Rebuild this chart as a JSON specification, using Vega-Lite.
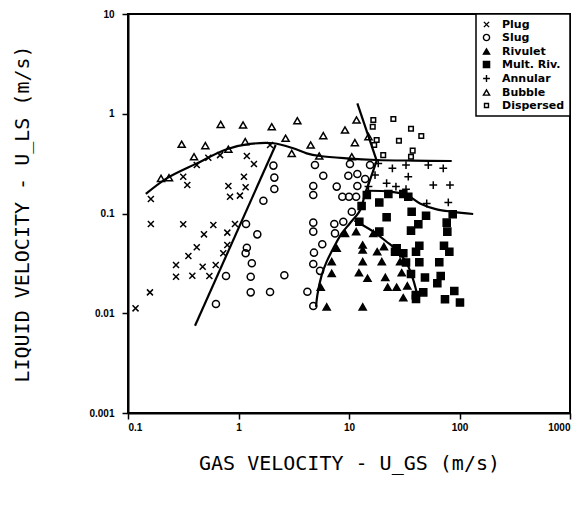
{
  "$schema": "https://vega.github.io/schema/vega-lite/v6.json",
  "width": 442,
  "height": 399,
  "autosize": {"type": "none"},
  "padding": {"left": 128, "top": 14, "right": 17, "bottom": 94},
  "background": "white",
  "datasets": {
    "points": [
      {"regime": "Plug", "ugs": 0.117, "uls": 0.0112},
      {"regime": "Plug", "ugs": 0.158, "uls": 0.0162},
      {"regime": "Plug", "ugs": 0.161, "uls": 0.0785},
      {"regime": "Plug", "ugs": 0.161, "uls": 0.140},
      {"regime": "Plug", "ugs": 0.316, "uls": 0.078},
      {"regime": "Plug", "ugs": 0.592, "uls": 0.0767},
      {"regime": "Plug", "ugs": 0.929, "uls": 0.0785},
      {"regime": "Plug", "ugs": 0.487, "uls": 0.0618},
      {"regime": "Plug", "ugs": 0.792, "uls": 0.0643},
      {"regime": "Plug", "ugs": 0.419, "uls": 0.0458},
      {"regime": "Plug", "ugs": 0.792, "uls": 0.0483},
      {"regime": "Plug", "ugs": 0.352, "uls": 0.0375},
      {"regime": "Plug", "ugs": 0.728, "uls": 0.0399},
      {"regime": "Plug", "ugs": 0.272, "uls": 0.0305},
      {"regime": "Plug", "ugs": 0.474, "uls": 0.0293},
      {"regime": "Plug", "ugs": 0.622, "uls": 0.0305},
      {"regime": "Plug", "ugs": 0.272, "uls": 0.0232},
      {"regime": "Plug", "ugs": 0.382, "uls": 0.0238},
      {"regime": "Plug", "ugs": 0.545, "uls": 0.0236},
      {"regime": "Plug", "ugs": 0.344, "uls": 0.193},
      {"regime": "Plug", "ugs": 0.316, "uls": 0.234},
      {"regime": "Plug", "ugs": 0.419, "uls": 0.306},
      {"regime": "Plug", "ugs": 0.533, "uls": 0.362},
      {"regime": "Plug", "ugs": 0.681, "uls": 0.385},
      {"regime": "Plug", "ugs": 1.19, "uls": 0.377},
      {"regime": "Plug", "ugs": 1.38, "uls": 0.313},
      {"regime": "Plug", "ugs": 1.12, "uls": 0.234},
      {"regime": "Plug", "ugs": 0.81, "uls": 0.189},
      {"regime": "Plug", "ugs": 1.16, "uls": 0.183},
      {"regime": "Plug", "ugs": 0.838, "uls": 0.147},
      {"regime": "Plug", "ugs": 1.03, "uls": 0.151},
      {"regime": "Plug", "ugs": 1.93, "uls": 0.486},
      {"regime": "Slug", "ugs": 0.625, "uls": 0.0124},
      {"regime": "Slug", "ugs": 0.771, "uls": 0.0236},
      {"regime": "Slug", "ugs": 1.17, "uls": 0.0785},
      {"regime": "Slug", "ugs": 1.48, "uls": 0.0618},
      {"regime": "Slug", "ugs": 1.19, "uls": 0.0454},
      {"regime": "Slug", "ugs": 1.16, "uls": 0.0399},
      {"regime": "Slug", "ugs": 1.32, "uls": 0.0317},
      {"regime": "Slug", "ugs": 1.29, "uls": 0.0232},
      {"regime": "Slug", "ugs": 2.6, "uls": 0.024},
      {"regime": "Slug", "ugs": 1.29, "uls": 0.0162},
      {"regime": "Slug", "ugs": 1.93, "uls": 0.0163},
      {"regime": "Slug", "ugs": 1.68, "uls": 0.134},
      {"regime": "Slug", "ugs": 2.07, "uls": 0.302},
      {"regime": "Slug", "ugs": 2.11, "uls": 0.229},
      {"regime": "Slug", "ugs": 2.11, "uls": 0.176},
      {"regime": "Slug", "ugs": 4.92, "uls": 0.306},
      {"regime": "Slug", "ugs": 5.85, "uls": 0.239},
      {"regime": "Slug", "ugs": 9.86, "uls": 0.239},
      {"regime": "Slug", "ugs": 10.2, "uls": 0.313},
      {"regime": "Slug", "ugs": 15.5, "uls": 0.306},
      {"regime": "Slug", "ugs": 11.9, "uls": 0.249},
      {"regime": "Slug", "ugs": 4.75, "uls": 0.189},
      {"regime": "Slug", "ugs": 4.75, "uls": 0.153},
      {"regime": "Slug", "ugs": 7.74, "uls": 0.186},
      {"regime": "Slug", "ugs": 8.7, "uls": 0.147},
      {"regime": "Slug", "ugs": 10.0, "uls": 0.147},
      {"regime": "Slug", "ugs": 11.6, "uls": 0.147},
      {"regime": "Slug", "ugs": 11.9, "uls": 0.189},
      {"regime": "Slug", "ugs": 14.0, "uls": 0.222},
      {"regime": "Slug", "ugs": 10.6, "uls": 0.104},
      {"regime": "Slug", "ugs": 4.75, "uls": 0.081},
      {"regime": "Slug", "ugs": 4.75, "uls": 0.0658},
      {"regime": "Slug", "ugs": 7.36, "uls": 0.0785},
      {"regime": "Slug", "ugs": 7.47, "uls": 0.0632},
      {"regime": "Slug", "ugs": 8.88, "uls": 0.0828},
      {"regime": "Slug", "ugs": 5.73, "uls": 0.0491},
      {"regime": "Slug", "ugs": 4.82, "uls": 0.0405},
      {"regime": "Slug", "ugs": 4.75, "uls": 0.0312},
      {"regime": "Slug", "ugs": 5.47, "uls": 0.0266},
      {"regime": "Slug", "ugs": 4.2, "uls": 0.0164},
      {"regime": "Slug", "ugs": 4.75, "uls": 0.0118},
      {"regime": "Rivulet", "ugs": 11.6, "uls": 0.0658},
      {"regime": "Rivulet", "ugs": 9.2, "uls": 0.0632},
      {"regime": "Rivulet", "ugs": 13.3, "uls": 0.0483},
      {"regime": "Rivulet", "ugs": 13.3, "uls": 0.043},
      {"regime": "Rivulet", "ugs": 7.74, "uls": 0.0448},
      {"regime": "Rivulet", "ugs": 6.97, "uls": 0.0329},
      {"regime": "Rivulet", "ugs": 6.97, "uls": 0.0251},
      {"regime": "Rivulet", "ugs": 13.3, "uls": 0.0329},
      {"regime": "Rivulet", "ugs": 18.0, "uls": 0.0414},
      {"regime": "Rivulet", "ugs": 20.7, "uls": 0.0465},
      {"regime": "Rivulet", "ugs": 19.8, "uls": 0.0329},
      {"regime": "Rivulet", "ugs": 29.0, "uls": 0.0329},
      {"regime": "Rivulet", "ugs": 12.3, "uls": 0.0255},
      {"regime": "Rivulet", "ugs": 14.7, "uls": 0.0224},
      {"regime": "Rivulet", "ugs": 21.3, "uls": 0.0229},
      {"regime": "Rivulet", "ugs": 30.0, "uls": 0.0255},
      {"regime": "Rivulet", "ugs": 22.4, "uls": 0.0182},
      {"regime": "Rivulet", "ugs": 27.0, "uls": 0.0182},
      {"regime": "Rivulet", "ugs": 33.7, "uls": 0.0188},
      {"regime": "Rivulet", "ugs": 31.0, "uls": 0.0143},
      {"regime": "Rivulet", "ugs": 6.28, "uls": 0.0116},
      {"regime": "Rivulet", "ugs": 13.3, "uls": 0.0116},
      {"regime": "Rivulet", "ugs": 5.55, "uls": 0.0182},
      {"regime": "Rivulet", "ugs": 16.6, "uls": 0.0632},
      {"regime": "Mult. Riv.", "ugs": 14.5, "uls": 0.153},
      {"regime": "Mult. Riv.", "ugs": 22.7, "uls": 0.157},
      {"regime": "Mult. Riv.", "ugs": 31.0, "uls": 0.157},
      {"regime": "Mult. Riv.", "ugs": 34.4, "uls": 0.147},
      {"regime": "Mult. Riv.", "ugs": 18.8, "uls": 0.129},
      {"regime": "Mult. Riv.", "ugs": 36.9, "uls": 0.104},
      {"regime": "Mult. Riv.", "ugs": 21.9, "uls": 0.0917},
      {"regime": "Mult. Riv.", "ugs": 49.8, "uls": 0.0951},
      {"regime": "Mult. Riv.", "ugs": 86.8, "uls": 0.0982},
      {"regime": "Mult. Riv.", "ugs": 42.4, "uls": 0.078},
      {"regime": "Mult. Riv.", "ugs": 76.6, "uls": 0.081},
      {"regime": "Mult. Riv.", "ugs": 13.0, "uls": 0.119},
      {"regime": "Mult. Riv.", "ugs": 12.4, "uls": 0.0828},
      {"regime": "Mult. Riv.", "ugs": 36.4, "uls": 0.0673},
      {"regime": "Mult. Riv.", "ugs": 77.6, "uls": 0.0658},
      {"regime": "Mult. Riv.", "ugs": 18.8, "uls": 0.0658},
      {"regime": "Mult. Riv.", "ugs": 43.3, "uls": 0.0475},
      {"regime": "Mult. Riv.", "ugs": 40.4, "uls": 0.0414},
      {"regime": "Mult. Riv.", "ugs": 72.4, "uls": 0.0475},
      {"regime": "Mult. Riv.", "ugs": 80.9, "uls": 0.0414},
      {"regime": "Mult. Riv.", "ugs": 27.0, "uls": 0.0448},
      {"regime": "Mult. Riv.", "ugs": 26.1, "uls": 0.0414},
      {"regime": "Mult. Riv.", "ugs": 31.0, "uls": 0.0399},
      {"regime": "Mult. Riv.", "ugs": 43.3, "uls": 0.0324},
      {"regime": "Mult. Riv.", "ugs": 65.6, "uls": 0.0324},
      {"regime": "Mult. Riv.", "ugs": 32.8, "uls": 0.0323},
      {"regime": "Mult. Riv.", "ugs": 36.4, "uls": 0.0247},
      {"regime": "Mult. Riv.", "ugs": 48.7, "uls": 0.0228},
      {"regime": "Mult. Riv.", "ugs": 67.6, "uls": 0.0236},
      {"regime": "Mult. Riv.", "ugs": 63.0, "uls": 0.02},
      {"regime": "Mult. Riv.", "ugs": 47.0, "uls": 0.0162},
      {"regime": "Mult. Riv.", "ugs": 40.4, "uls": 0.0139},
      {"regime": "Mult. Riv.", "ugs": 89.7, "uls": 0.0167},
      {"regime": "Mult. Riv.", "ugs": 73.9, "uls": 0.0138},
      {"regime": "Mult. Riv.", "ugs": 101, "uls": 0.0128},
      {"regime": "Mult. Riv.", "ugs": 40.2, "uls": 0.0152},
      {"regime": "Annular", "ugs": 18.4, "uls": 0.318},
      {"regime": "Annular", "ugs": 24.7, "uls": 0.284},
      {"regime": "Annular", "ugs": 32.8, "uls": 0.306},
      {"regime": "Annular", "ugs": 34.4, "uls": 0.234},
      {"regime": "Annular", "ugs": 52.2, "uls": 0.306},
      {"regime": "Annular", "ugs": 71.3, "uls": 0.284},
      {"regime": "Annular", "ugs": 21.9, "uls": 0.201},
      {"regime": "Annular", "ugs": 26.6, "uls": 0.186},
      {"regime": "Annular", "ugs": 32.8, "uls": 0.175},
      {"regime": "Annular", "ugs": 57.9, "uls": 0.193},
      {"regime": "Annular", "ugs": 82.0, "uls": 0.193},
      {"regime": "Annular", "ugs": 79.2, "uls": 0.129},
      {"regime": "Annular", "ugs": 17.2, "uls": 0.243},
      {"regime": "Annular", "ugs": 15.0, "uls": 0.186},
      {"regime": "Annular", "ugs": 50.5, "uls": 0.126},
      {"regime": "Bubble", "ugs": 0.199, "uls": 0.225},
      {"regime": "Bubble", "ugs": 0.235, "uls": 0.228},
      {"regime": "Bubble", "ugs": 0.306, "uls": 0.494},
      {"regime": "Bubble", "ugs": 0.396, "uls": 0.371},
      {"regime": "Bubble", "ugs": 0.501, "uls": 0.479},
      {"regime": "Bubble", "ugs": 0.69, "uls": 0.783},
      {"regime": "Bubble", "ugs": 1.10, "uls": 0.771},
      {"regime": "Bubble", "ugs": 2.0, "uls": 0.741},
      {"regime": "Bubble", "ugs": 2.67, "uls": 0.568},
      {"regime": "Bubble", "ugs": 3.03, "uls": 0.401},
      {"regime": "Bubble", "ugs": 3.41, "uls": 0.851},
      {"regime": "Bubble", "ugs": 1.15, "uls": 0.525},
      {"regime": "Bubble", "ugs": 0.81, "uls": 0.441},
      {"regime": "Bubble", "ugs": 5.85, "uls": 0.603},
      {"regime": "Bubble", "ugs": 4.5, "uls": 0.486},
      {"regime": "Bubble", "ugs": 9.2, "uls": 0.687},
      {"regime": "Bubble", "ugs": 11.7, "uls": 0.865},
      {"regime": "Bubble", "ugs": 11.3, "uls": 0.513},
      {"regime": "Bubble", "ugs": 15.0, "uls": 0.589},
      {"regime": "Bubble", "ugs": 5.38, "uls": 0.377},
      {"regime": "Bubble", "ugs": 10.6, "uls": 0.371},
      {"regime": "Dispersed", "ugs": 16.6, "uls": 0.865},
      {"regime": "Dispersed", "ugs": 16.4, "uls": 0.741},
      {"regime": "Dispersed", "ugs": 25.2, "uls": 0.885},
      {"regime": "Dispersed", "ugs": 36.4, "uls": 0.708},
      {"regime": "Dispersed", "ugs": 45.1, "uls": 0.598},
      {"regime": "Dispersed", "ugs": 17.8, "uls": 0.546},
      {"regime": "Dispersed", "ugs": 28.3, "uls": 0.537},
      {"regime": "Dispersed", "ugs": 16.9, "uls": 0.486},
      {"regime": "Dispersed", "ugs": 20.4, "uls": 0.385},
      {"regime": "Dispersed", "ugs": 37.7, "uls": 0.427},
      {"regime": "Dispersed", "ugs": 36.4, "uls": 0.371}
    ],
    "curves": [
      {"curve": "A", "seq": 1, "ugs": 0.145, "uls": 0.157},
      {"curve": "A", "seq": 2, "ugs": 0.224, "uls": 0.225},
      {"curve": "A", "seq": 3, "ugs": 0.419, "uls": 0.318},
      {"curve": "A", "seq": 4, "ugs": 0.782, "uls": 0.441},
      {"curve": "A", "seq": 5, "ugs": 1.27, "uls": 0.498},
      {"curve": "A", "seq": 6, "ugs": 2.07, "uls": 0.506},
      {"curve": "A", "seq": 7, "ugs": 3.13, "uls": 0.451},
      {"curve": "A", "seq": 8, "ugs": 4.14, "uls": 0.401},
      {"curve": "A", "seq": 9, "ugs": 5.47, "uls": 0.377},
      {"curve": "A", "seq": 10, "ugs": 9.53, "uls": 0.357},
      {"curve": "A", "seq": 11, "ugs": 17.8, "uls": 0.344},
      {"curve": "A", "seq": 12, "ugs": 38.2, "uls": 0.339},
      {"curve": "A", "seq": 13, "ugs": 85.0, "uls": 0.336},
      {"curve": "B", "seq": 1, "ugs": 0.404, "uls": 0.0075},
      {"curve": "B", "seq": 2, "ugs": 2.17, "uls": 0.486},
      {"curve": "C1", "seq": 1, "ugs": 11.9, "uls": 1.27},
      {"curve": "C1", "seq": 2, "ugs": 17.8, "uls": 0.339},
      {"curve": "C2", "seq": 1, "ugs": 17.8, "uls": 0.339},
      {"curve": "C2", "seq": 2, "ugs": 15.5, "uls": 0.217},
      {"curve": "C2", "seq": 3, "ugs": 14.0, "uls": 0.159},
      {"curve": "C2", "seq": 4, "ugs": 12.6, "uls": 0.108},
      {"curve": "C2", "seq": 5, "ugs": 10.2, "uls": 0.0798},
      {"curve": "C2", "seq": 6, "ugs": 8.59, "uls": 0.0632},
      {"curve": "C2", "seq": 7, "ugs": 7.21, "uls": 0.0448},
      {"curve": "C2", "seq": 8, "ugs": 6.28, "uls": 0.0329},
      {"curve": "C2", "seq": 9, "ugs": 5.66, "uls": 0.0241},
      {"curve": "C2", "seq": 10, "ugs": 5.17, "uls": 0.0152},
      {"curve": "C2", "seq": 11, "ugs": 5.03, "uls": 0.0116},
      {"curve": "D", "seq": 1, "ugs": 11.2, "uls": 0.085},
      {"curve": "D", "seq": 2, "ugs": 16.6, "uls": 0.0658},
      {"curve": "D", "seq": 3, "ugs": 21.9, "uls": 0.0521},
      {"curve": "D", "seq": 4, "ugs": 27.0, "uls": 0.043},
      {"curve": "D", "seq": 5, "ugs": 33.3, "uls": 0.0317},
      {"curve": "D", "seq": 6, "ugs": 38.2, "uls": 0.0215},
      {"curve": "D", "seq": 7, "ugs": 41.5, "uls": 0.0152},
      {"curve": "E", "seq": 1, "ugs": 14.3, "uls": 0.169},
      {"curve": "E", "seq": 2, "ugs": 23.5, "uls": 0.166},
      {"curve": "E", "seq": 3, "ugs": 33.3, "uls": 0.153},
      {"curve": "E", "seq": 4, "ugs": 43.9, "uls": 0.126},
      {"curve": "E", "seq": 5, "ugs": 62.2, "uls": 0.110},
      {"curve": "E", "seq": 6, "ugs": 87.9, "uls": 0.104},
      {"curve": "E", "seq": 7, "ugs": 133, "uls": 0.0989}
    ]
  },
  "encoding": {
    "x": {
      "field": "ugs", "type": "quantitative",
      "scale": {"type": "log", "domain": [0.1, 1000], "nice": false},
      "axis": {"values": [0.1, 1, 10, 100, 1000], "format": "~g", "title": "GAS VELOCITY - U_GS (m/s)", "labelPadding": 3, "titlePadding": 21}
    },
    "y": {
      "field": "uls", "type": "quantitative",
      "scale": {"type": "log", "domain": [0.001, 10], "nice": false},
      "axis": {"values": [0.001, 0.01, 0.1, 1, 10], "format": "~g", "title": "LIQUID VELOCITY - U_LS (m/s)", "labelPadding": 8, "titlePadding": 56}
    }
  },
  "layer": [
    {
      "data": {"name": "curves"},
      "mark": {"type": "line", "color": "black", "strokeWidth": 2.2, "interpolate": "catmull-rom", "clip": true},
      "encoding": {
        "detail": {"field": "curve", "type": "nominal"},
        "order": {"field": "seq", "type": "quantitative"}
      }
    },
    {
      "data": {"name": "points"},
      "mark": {"type": "point", "strokeWidth": 1.5, "opacity": 1, "size": 50},
      "encoding": {
        "shape": {
          "field": "regime", "type": "nominal",
          "scale": {
            "domain": ["Plug", "Slug", "Rivulet", "Mult. Riv.", "Annular", "Bubble", "Dispersed"],
            "range": ["M-0.85,-0.85L0.85,0.85M-0.85,0.85L0.85,-0.85", "circle", "triangle-up", "square", "M-1.1,0L1.1,0M0,-1.1L0,1.1", "triangle-up", "M-0.65,-0.65H0.65V0.65H-0.65Z"]
          },
          "legend": {"title": null}
        },
        "fill": {
          "field": "regime", "type": "nominal",
          "scale": {
            "domain": ["Plug", "Slug", "Rivulet", "Mult. Riv.", "Annular", "Bubble", "Dispersed"],
            "range": ["transparent", "transparent", "black", "black", "transparent", "transparent", "transparent"]
          },
          "legend": {"title": null}
        },
        "stroke": {
          "field": "regime", "type": "nominal",
          "scale": {
            "domain": ["Plug", "Slug", "Rivulet", "Mult. Riv.", "Annular", "Bubble", "Dispersed"],
            "range": ["black", "black", "black", "black", "black", "black", "black"]
          },
          "legend": {"title": null}
        }
      }
    }
  ],
  "config": {
    "view": {"stroke": "black", "strokeWidth": 2},
    "axis": {
      "grid": false,
      "domainColor": "black",
      "domainWidth": 2,
      "tickColor": "black",
      "tickWidth": 1.5,
      "tickSize": 6,
      "labelColor": "black",
      "labelFont": "Liberation Sans",
      "labelFontWeight": "bold",
      "labelFontSize": 10,
      "titleColor": "black",
      "titleFont": "DejaVu Sans Mono",
      "titleFontWeight": "normal",
      "titleFontSize": 20
    },
    "legend": {
      "orient": "top-right",
      "offset": 0,
      "strokeColor": "black",
      "strokeWidth": 1.5,
      "fillColor": "white",
      "padding": 5,
      "labelFont": "DejaVu Sans",
      "labelFontWeight": "bold",
      "labelFontSize": 11,
      "labelColor": "black",
      "labelOffset": 10,
      "rowPadding": 1,
      "symbolSize": 38,
      "symbolStrokeWidth": 1.4
    }
  }
}
